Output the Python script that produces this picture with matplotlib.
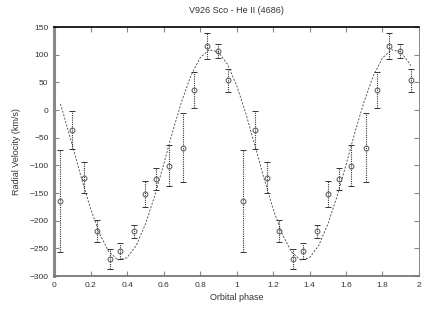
import numpy as np
import matplotlib
matplotlib.use('Agg')
import matplotlib.pyplot as plt

# measured radial velocities (one orbit), repeated over two cycles
phase = [0.034, 0.099, 0.166, 0.234, 0.309, 0.362, 0.440, 0.500,
         0.561, 0.628, 0.707, 0.769, 0.838, 0.897, 0.955]
rv = [-164, -36, -122, -219, -270, -255, -219, -152,
      -125, -101, -68, 36, 116, 107, 54]
rv_err = [92, 35, 28, 20, 18, 15, 12, 23,
          20, 37, 62, 33, 24, 13, 21]

# fitted orbit curve
fit_phase = [0.035, 0.05, 0.10, 0.15, 0.20, 0.25, 0.30, 0.35, 0.40, 0.45,
             0.50, 0.55, 0.60, 0.65, 0.70, 0.75, 0.80, 0.85, 0.90, 0.95,
             1.00, 1.05, 1.10, 1.15, 1.20, 1.25, 1.30, 1.35, 1.40, 1.45,
             1.50, 1.55, 1.60, 1.65, 1.70, 1.75, 1.80, 1.85, 1.90, 1.95, 1.955]
fit_rv = [11, -5, -63, -123, -178, -224, -256, -271, -267, -245,
          -207, -157, -99, -39, 16, 62, 94, 109, 105, 83,
          45, -5, -63, -123, -178, -224, -256, -271, -267, -245,
          -207, -157, -99, -39, 16, 62, 94, 109, 105, 83, 80]

x_all = np.concatenate([phase, np.array(phase) + 1])
y_all = np.concatenate([rv, rv])
e_all = np.concatenate([rv_err, rv_err])

plt.rcParams['font.family'] = ['Liberation Sans', 'DejaVu Sans']

fig = plt.figure(figsize=(4.36, 3.14), dpi=100)
ax = fig.add_axes([0.1239, 0.121, 0.8371, 0.793])

ax.plot(fit_phase, fit_rv, color='#444444', lw=0.6, ls=(0, (2.5, 1.8)))
eb = ax.errorbar(x_all, y_all, yerr=e_all, fmt='o', ms=3.5, mfc='none',
                 mec='#555555', mew=0.7, ecolor='#333333', elinewidth=0.8,
                 capsize=2.2, capthick=0.7)
for lc in eb[2]:
    lc.set_linestyle((0, (1, 1)))

ax.set_xlim(0, 2)
ax.set_ylim(-300, 150)
ax.set_xticks(np.arange(0, 2.01, 0.2))
ax.set_xticklabels(['0', '0.2', '0.4', '0.6', '0.8', '1', '1.2', '1.4', '1.6', '1.8', '2'])
ax.set_yticks(np.arange(-300, 151, 50))

ax.tick_params(direction='in', length=3.5, width=0.8, color='#888888',
               labelsize=6, labelcolor='#333333', top=True, right=True, pad=4)

ax.spines['left'].set_color('#888888')
ax.spines['left'].set_linewidth(2.2)
ax.spines['top'].set_color('black')
ax.spines['top'].set_linewidth(1.2)
ax.spines['right'].set_color('#888888')
ax.spines['right'].set_linewidth(0.7)
ax.spines['bottom'].set_color('#777777')
ax.spines['bottom'].set_linewidth(1.3)

ax.set_title('V926 Sco - He II (4686)', fontsize=6.5, color='#333333', pad=10)
ax.set_xlabel('Orbital phase', fontsize=6.5, color='#333333', labelpad=3)
ax.set_ylabel('Radial Velocity (km/s)', fontsize=6.5, color='#333333', labelpad=6)

fig.savefig('out.png', dpi=100)
